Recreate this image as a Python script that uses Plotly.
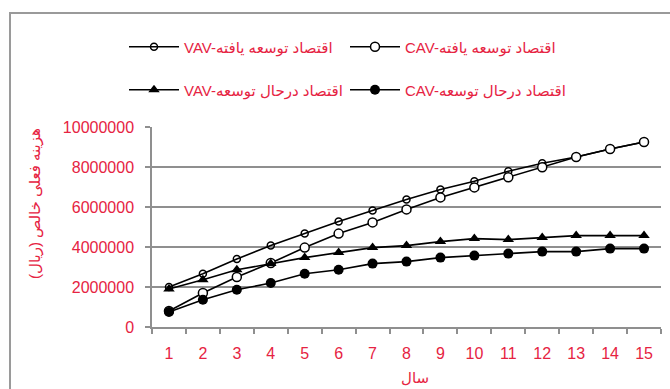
import plotly.graph_objects as go

# Years of the study period
years = list(range(1, 16))

# Net present cost (rial) for each system / economy type
vav_developed = [2.00e6, 2.66e6, 3.40e6, 4.07e6, 4.67e6, 5.28e6, 5.83e6, 6.38e6,
                 6.88e6, 7.29e6, 7.79e6, 8.19e6, 8.50e6, 8.90e6, 9.25e6]
cav_developed = [0.80e6, 1.70e6, 2.50e6, 3.20e6, 3.97e6, 4.67e6, 5.23e6, 5.88e6,
                 6.48e6, 6.98e6, 7.49e6, 7.99e6, 8.50e6, 8.90e6, 9.25e6]
vav_developing = [1.90e6, 2.36e6, 2.86e6, 3.17e6, 3.47e6, 3.72e6, 3.97e6, 4.07e6,
                  4.27e6, 4.42e6, 4.37e6, 4.47e6, 4.57e6, 4.57e6, 4.57e6]
cav_developing = [0.75e6, 1.36e6, 1.86e6, 2.20e6, 2.66e6, 2.86e6, 3.17e6, 3.27e6,
                  3.47e6, 3.57e6, 3.67e6, 3.77e6, 3.77e6, 3.92e6, 3.92e6]

names = [
    "VAV-اقتصاد توسعه یافته",
    "CAV-اقتصاد توسعه یافته",
    "VAV-اقتصاد درحال توسعه",
    "CAV-اقتصاد درحال توسعه",
]
y_ticks = [0, 2000000, 4000000, 6000000, 8000000, 10000000]
x_title = "سال"
y_title = "هزینه فعلی خالص (ریال)"

RED = "#e62342"
GRID = "#8f8f8f"
FONT = "Liberation Sans, DejaVu Sans, sans-serif"

W, H = 670, 389
L, R, T, B = 152, 9, 127, 62
PW, PH = W - L - R, H - T - B


def px_x(px):
    return (px - L) / PW


def px_y(py):
    return (H - B - py) / PH


fig = go.Figure()

styles = [
    dict(symbol="circle-open", size=7, color="black", line=dict(width=1.5)),
    dict(symbol="circle", size=9, color="white", line=dict(width=1.5, color="black")),
    dict(symbol="triangle-up", size=10, color="black", line=dict(width=0)),
    dict(symbol="circle", size=10, color="black", line=dict(width=0)),
]
series = [vav_developed, cav_developed, vav_developing, cav_developing]
legends = ["legend", "legend", "legend2", "legend2"]

for name, vals, st, lg in zip(names, series, styles, legends):
    fig.add_trace(go.Scatter(
        x=years, y=vals, name=name, mode="lines+markers",
        line=dict(color="black", width=1.6),
        marker=st, legend=lg,
    ))

# outer frame (top and left edges)
fig.add_shape(type="path", xref="paper", yref="paper",
              path=f"M {px_x(10)},{px_y(H + 5)} L {px_x(10)},{px_y(13)} L {px_x(W + 5)},{px_y(13)}",
              line=dict(color="#9a9a9a", width=2))

fig.add_annotation(text=y_title, xref="paper", yref="paper",
                   x=px_x(35), y=px_y(204), xanchor="center", yanchor="middle",
                   textangle=-90, showarrow=False,
                   font=dict(color=RED, size=15, family=FONT))
fig.add_annotation(text=x_title, xref="paper", yref="paper",
                   x=px_x(415), y=px_y(377), xanchor="center", yanchor="middle",
                   showarrow=False,
                   font=dict(color=RED, size=15, family=FONT))

legend_common = dict(
    orientation="h", xanchor="left", yanchor="middle",
    entrywidth=156, entrywidthmode="pixels", itemwidth=50,
    font=dict(color=RED, size=15, family=FONT),
    bgcolor="rgba(0,0,0,0)", itemclick=False,
)

fig.update_layout(
    width=W, height=H,
    margin=dict(l=L, r=R, t=T, b=B),
    plot_bgcolor="white", paper_bgcolor="white",
    showlegend=True,
    legend=dict(x=px_x(124), y=px_y(47), **legend_common),
    legend2=dict(x=px_x(124), y=px_y(90), **legend_common),
    xaxis=dict(
        range=[0.5, 15.5], tickvals=years, ticktext=[str(v) for v in years],
        ticks="outside", ticklen=11, tickcolor="rgba(0,0,0,0)",
        showline=True, linecolor=GRID, linewidth=1.5,
        showgrid=False, zeroline=False,
        minor=dict(tick0=0.5, dtick=1, ticks="outside", ticklen=5,
                   tickcolor=GRID, tickwidth=1.5, showgrid=False),
        tickfont=dict(color=RED, size=16, family=FONT),
    ),
    yaxis=dict(
        range=[0, 10000000], tickvals=y_ticks, tickformat="d",
        ticks="outside", ticklen=5, tickcolor=GRID, tickwidth=1.5,
        ticklabelstandoff=8,
        showline=True, linecolor=GRID, linewidth=1.5,
        showgrid=True, gridcolor=GRID, gridwidth=1.5, zeroline=False,
        tickfont=dict(color=RED, size=16, family=FONT),
    ),
)

fig.write_html("out.html")
